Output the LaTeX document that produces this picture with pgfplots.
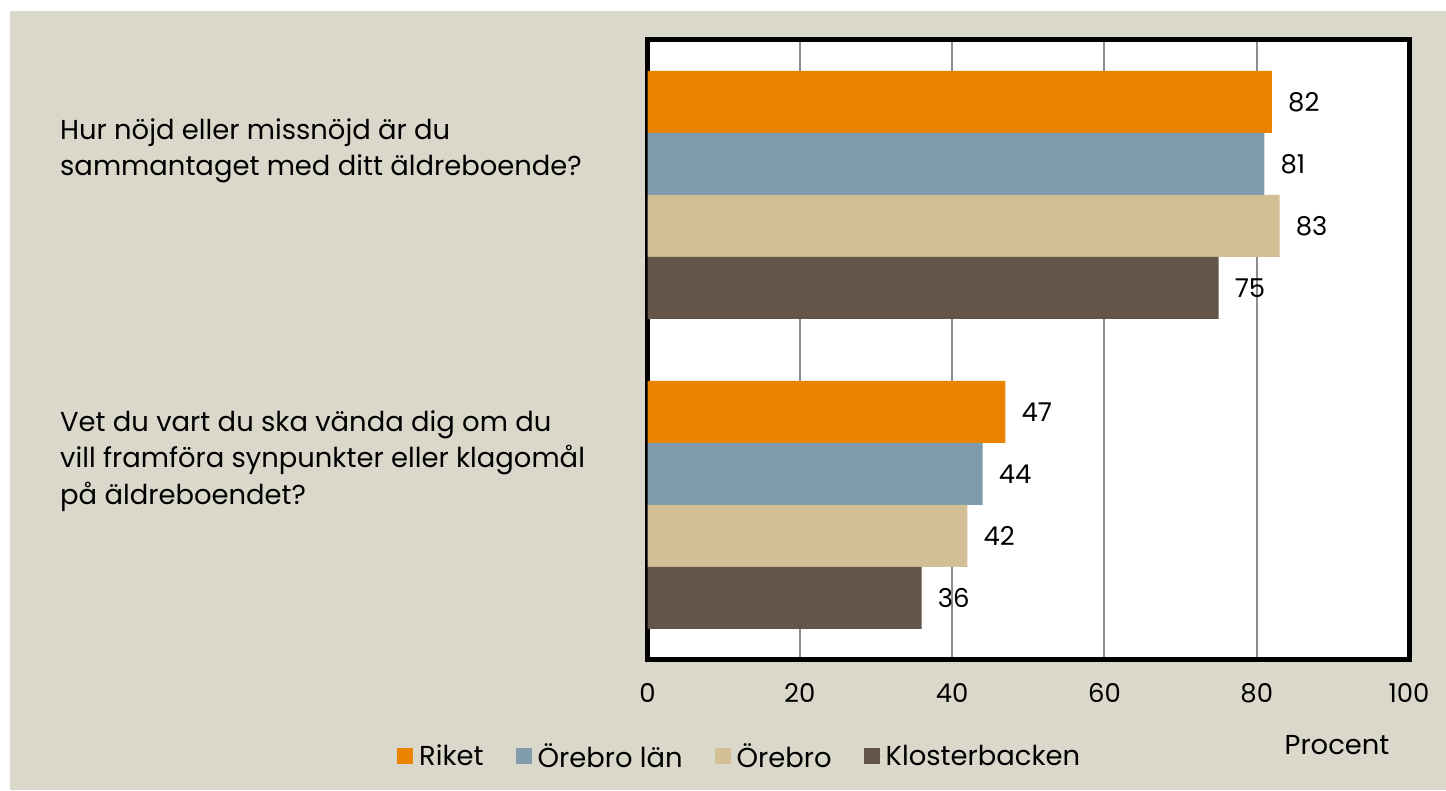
\documentclass[border=0pt]{standalone}
\usepackage{pgfplots}
\pgfplotsset{compat=1.18}
\usepackage{fontspec}
\setmainfont{Poppins}
\definecolor{bg}{RGB}{218,216,203}
\definecolor{riket}{RGB}{233,131,0}
\definecolor{lan}{RGB}{127,155,173}
\definecolor{orebro}{RGB}{211,191,150}
\definecolor{kloster}{RGB}{99,85,74}
\definecolor{gridgray}{RGB}{140,140,140}
\newcommand{\cf}{\fontsize{26}{36}\selectfont}
\newcommand{\qf}{\fontsize{27.5}{36.5}\selectfont}
\begin{document}
\begin{tikzpicture}[x=1bp,y=1bp]
\fill[white] (0,0) rectangle (1446,790);
\fill[bg] (10,0) rectangle (1446,779);
\begin{axis}[
  at={(647.5bp,130bp)}, anchor=south west,
  scale only axis, width=761.5bp, height=620bp,
  xmin=0, xmax=100, ymin=-0.5, ymax=1.5,
  xbar, bar width=62bp,
  xtick={0,20,40,60,80,100},
  ytick={0,1},
  yticklabels={{Vet du vart du ska vända dig om du\\vill framföra synpunkter eller klagomål\\på äldreboendet?},{Hur nöjd eller missnöjd är du\\sammantaget med ditt äldreboende?}},
  xmajorgrids,
  major grid style={color=gridgray, line width=2bp},
  axis line style={line width=5bp, black},
  major tick length=0pt,
  axis background/.style={fill=white},
  tick label style={font=\cf, text=black},
  /pgf/number format/assume math mode=true,
  xticklabel style={yshift=-20bp},
  yticklabel style={font=\qf, anchor=west, align=left, inner sep=0pt, xshift=-587.5bp, yshift=44bp},
  nodes near coords,
  every node near coord/.append style={anchor=west, inner sep=0pt, xshift=16bp, font=\cf, text=black},
  legend columns=4,
  legend cell align=left,
  legend image code/.code={\fill[#1] (0bp,-8bp) rectangle (16bp,8bp); \path (0bp,0bp) -- (20bp,0bp);},
  legend style={draw=none, fill=none, at={(-0.333,-0.155)}, anchor=west, font=\qf,
    /tikz/every even column/.append style={column sep=30bp}},
]
\addplot[fill=riket, draw=none, bar shift=93bp] coordinates {(82,1) (47,0)};
\addplot[fill=lan, draw=none, bar shift=31bp] coordinates {(81,1) (44,0)};
\addplot[fill=orebro, draw=none, bar shift=-31bp] coordinates {(83,1) (42,0)};
\addplot[fill=kloster, draw=none, bar shift=-93bp] coordinates {(75,1) (36,0)};
\legend{Riket, Örebro län, Örebro, Klosterbacken}
\end{axis}
\node[anchor=base, font=\qf] at (1337,36) {Procent};
\pgfresetboundingbox
\useasboundingbox (0,0) rectangle (1446,790);
\end{tikzpicture}
\end{document}
